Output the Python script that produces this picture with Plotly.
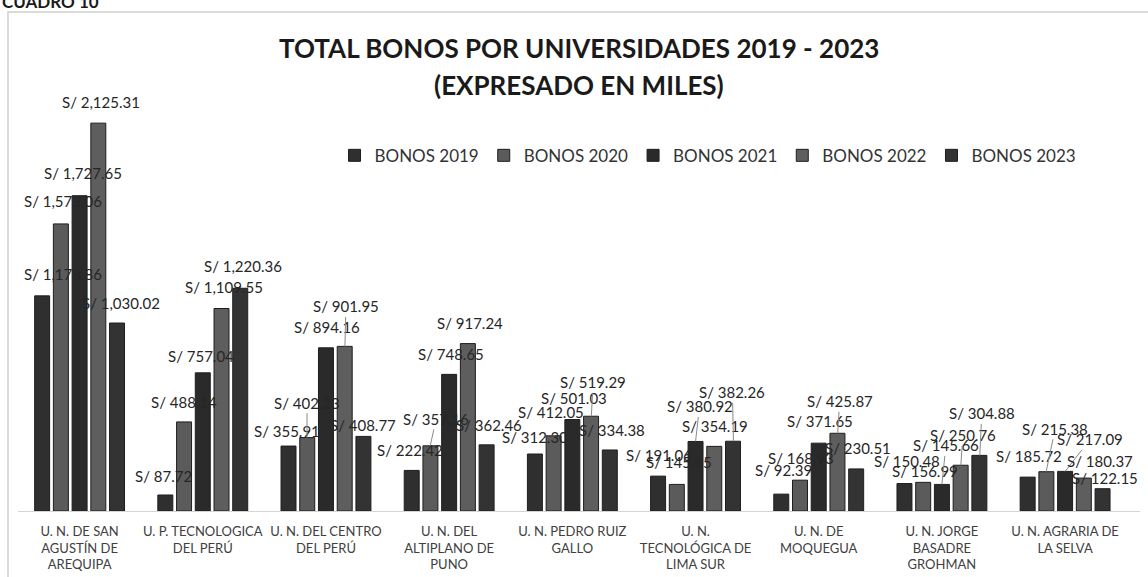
import plotly.graph_objects as go

universidades = [
    "U. N. DE SAN<br>AGUSTÍN DE<br>AREQUIPA",
    "U. P. TECNOLOGICA<br>DEL PERÚ",
    "U. N. DEL CENTRO<br>DEL PERÚ",
    "U. N. DEL<br>ALTIPLANO DE<br>PUNO",
    "U. N. PEDRO RUIZ<br>GALLO",
    "U. N.<br>TECNOLÓGICA DE<br>LIMA SUR",
    "U. N. DE<br>MOQUEGUA",
    "U. N. JORGE<br>BASADRE<br>GROHMAN",
    "U. N. AGRARIA DE<br>LA SELVA",
]

bonos_2019 = [1178.86, 87.72, 355.91, 222.42, 312.30, 191.06, 92.39, 150.48, 185.72]
bonos_2020 = [1573.06, 488.14, 402.23, 357.16, 412.05, 145.65, 168.93, 156.99, 215.38]
bonos_2021 = [1727.65, 757.04, 894.16, 748.65, 501.03, 380.92, 371.65, 145.66, 217.09]
bonos_2022 = [2125.31, 1109.55, 901.95, 917.24, 519.29, 354.19, 425.87, 250.76, 180.37]
bonos_2023 = [1030.02, 1220.36, 408.77, 362.46, 334.38, 382.26, 230.51, 304.88, 122.15]

series_names = ["BONOS 2019", "BONOS 2020", "BONOS 2021", "BONOS 2022", "BONOS 2023"]
series_values = [bonos_2019, bonos_2020, bonos_2021, bonos_2022, bonos_2023]

# ---- styles (not data) ----
series_colors = ["#2f2f2f", "#5b5b5b", "#2a2a2a", "#5e5e5e", "#333333"]
# label offsets in pixels (dx, dy above bar top), per series then per category,
# imitating the hand-placed data labels of the original chart
label_dx = [
    [21, -1, -1, -1, 1, 1, 3, 3, 2],
    [2, 0, 0, 6, -2, 2, 1, 2, 9],
    [3, -2, 1, 2, 2, 4, 1, 4, 25],
    [2, 2, 1, 2, 2, 1, 2, 2, 16],
    [4, 2, -1, 2, 2, -1, 1, 2, 2],
]
label_dy = [
    [22, 19, 15, 20, 17, 21, 24, 23, 21],
    [23, 20, 35, 27, 24, 22, 22, 11, 43],
    [23, 17, 21, 20, 22, 35, 22, 39, 32],
    [21, 22, 40, 21, 34, 20, 32, 30, 17],
    [20, 22, 11, 20, 20, 49, 21, 42, 11],
]
LEADER_MIN = 27  # labels further than this from their bar get a leader line

FONT = "Lato"
W, H = 1148, 577
ML, MR, MT, MB = 18, 8, 73, 66
BARGAP = 0.24
plot_w = W - ML - MR
plot_h = H - MT - MB
cat_w = plot_w / len(universidades)
pitch = cat_w * (1 - BARGAP) / len(series_names)

fig = go.Figure()
for name, vals, col in zip(series_names, series_values, series_colors):
    fig.add_trace(go.Bar(
        name=name,
        x=universidades,
        y=vals,
        marker=dict(color=col, line=dict(color="#1e1e1e", width=1)),
        hoverinfo="x+y",
    ))

annotations = []
n = len(series_names)
for i, vals in enumerate(series_values):
    off = (i - (n - 1) / 2) * pitch
    for j, v in enumerate(vals):
        dx = label_dx[i][j]
        dy = label_dy[i][j]
        leader = dy >= LEADER_MIN
        annotations.append(dict(
            x=universidades[j], y=v, xref="x", yref="y",
            xshift=off,
            text=f"S/ {v:,.2f}",
            showarrow=True,
            ax=dx, ay=-dy,
            arrowhead=0, arrowwidth=1,
            arrowcolor="#8a8a8a" if leader else "rgba(0,0,0,0)",
            standoff=0, startstandoff=0,
            font=dict(family=FONT, size=15, color="#262626"),
        ))

annotations += [
    dict(text="<b>TOTAL BONOS POR UNIVERSIDADES 2019 - 2023</b>", xref="paper", yref="paper",
         x=0.5, y=1 + (MT - 48) / plot_h, xanchor="center", yanchor="middle", showarrow=False,
         font=dict(family=FONT, size=26, color="#1a1a1a")),
    dict(text="<b>(EXPRESADO EN MILES)</b>", xref="paper", yref="paper",
         x=0.5, y=1 + (MT - 85) / plot_h, xanchor="center", yanchor="middle", showarrow=False,
         font=dict(family=FONT, size=26, color="#1a1a1a")),
    dict(text="<b>CUADRO 10</b>", xref="paper", yref="paper",
         x=-ML / plot_w, y=1 + (MT - 1) / plot_h, xanchor="left", yanchor="middle", showarrow=False,
         font=dict(family=FONT, size=17, color="#1a1a1a")),
]

fig.update_layout(
    width=W,
    height=H,
    barmode="group",
    bargap=BARGAP,
    bargroupgap=0.2,
    plot_bgcolor="white",
    paper_bgcolor="white",
    margin=dict(l=ML, r=MR, t=MT, b=MB, autoexpand=False),
    font=dict(family=FONT, color="#333333"),
    showlegend=True,
    legend=dict(
        orientation="h",
        x=0.615, xanchor="center",
        y=0.811, yanchor="middle",
        font=dict(family=FONT, size=17, color="#333333"),
        itemwidth=30,
        traceorder="normal",
        bgcolor="rgba(0,0,0,0)",
    ),
    xaxis=dict(
        showline=True,
        linecolor="#d4d4d4",
        linewidth=1,
        ticks="",
        automargin=False,
        ticklabelstandoff=8,
        tickfont=dict(family=FONT, size=13, color="#404040"),
    ),
    yaxis=dict(
        range=[0, 2400],
        visible=False,
        showgrid=False,
        automargin=False,
    ),
    annotations=annotations,
    shapes=[
        dict(type="rect", xref="paper", yref="paper",
             x0=-10 / plot_w, x1=1.02, y0=-0.2, y1=1 + (MT - 12) / plot_h,
             line=dict(color="#cfcfcf", width=1.5), fillcolor="rgba(0,0,0,0)", layer="below"),
    ],
)

fig.write_html(
    "out.html",
    config={"displayModeBar": False},
    post_script="document.body.style.margin='0';document.body.style.padding='0';",
)
